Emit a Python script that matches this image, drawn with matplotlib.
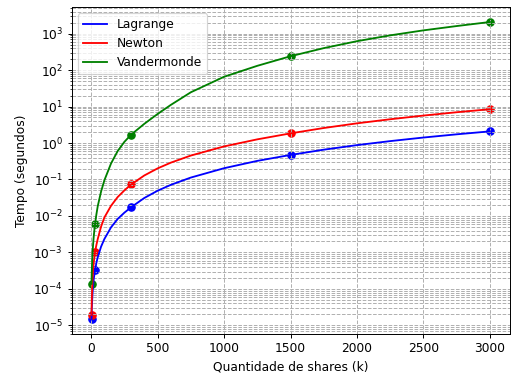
import matplotlib
matplotlib.use("Agg")
import matplotlib.pyplot as plt

# measured points (k shares -> seconds)
k_pts = [3, 30, 300, 1500, 3000]
lagrange_pts = [1.5e-5, 3.3e-4, 0.0173, 0.47, 2.08]
newton_pts = [1.96e-5, 1.05e-3, 0.073, 1.84, 8.4]
vander_pts = [1.38e-4, 6.1e-3, 1.68, 239, 2070]

# smooth curves (log10 of seconds)
k_curve = [3, 5, 10, 15, 20, 30, 40, 50, 75, 100, 150, 200, 250, 300, 400,
           500, 600, 750, 1000, 1250, 1500, 1750, 2000, 2250, 2500, 2750, 3000]
lagrange_log = [-4.82, -4.55, -4.15, -3.9, -3.72, -3.48, -3.28, -3.13, -2.84,
                -2.63, -2.31, -2.08, -1.91, -1.763, -1.507, -1.308, -1.146,
                -0.947, -0.691, -0.49, -0.327, -0.183, -0.058, 0.052, 0.150,
                0.238, 0.319]
newton_log = [-4.71, -4.3, -3.8, -3.48, -3.27, -2.98, -2.79, -2.63, -2.29,
              -2.04, -1.72, -1.48, -1.30, -1.14, -0.89, -0.696, -0.538,
              -0.344, -0.094, 0.10, 0.264, 0.411, 0.539, 0.651, 0.752, 0.843,
              0.926]
vander_log = [-3.86, -3.52, -3.05, -2.78, -2.55, -2.21, -1.95, -1.73, -1.33,
              -1.02, -0.56, -0.22, 0.03, 0.225, 0.525, 0.795, 1.045, 1.39,
              1.815, 2.115, 2.378, 2.60, 2.79, 2.95, 3.087, 3.205, 3.316]

lagrange_curve = [10 ** v for v in lagrange_log]
newton_curve = [10 ** v for v in newton_log]
vander_curve = [10 ** v for v in vander_log]

fig, ax = plt.subplots(figsize=(515 / 88, 376 / 88), dpi=88)

ax.scatter(k_pts, lagrange_pts, color="blue")
ax.plot(k_curve, lagrange_curve, color="blue", label="Lagrange")
ax.scatter(k_pts, newton_pts, color="red")
ax.plot(k_curve, newton_curve, color="red", label="Newton")
ax.scatter(k_pts, vander_pts, color="green")
ax.plot(k_curve, vander_curve, color="green", label="Vandermonde")

ax.set_yscale("log")
ax.set_xlabel("Quantidade de shares (k)")
ax.set_ylabel("Tempo (segundos)")
ax.legend(loc="upper left")
ax.grid(True, which="both", ls="--")

plt.subplots_adjust(left=0.139, right=0.990, top=0.981, bottom=0.112)
plt.savefig("out.png", dpi=88)
plt.close()
